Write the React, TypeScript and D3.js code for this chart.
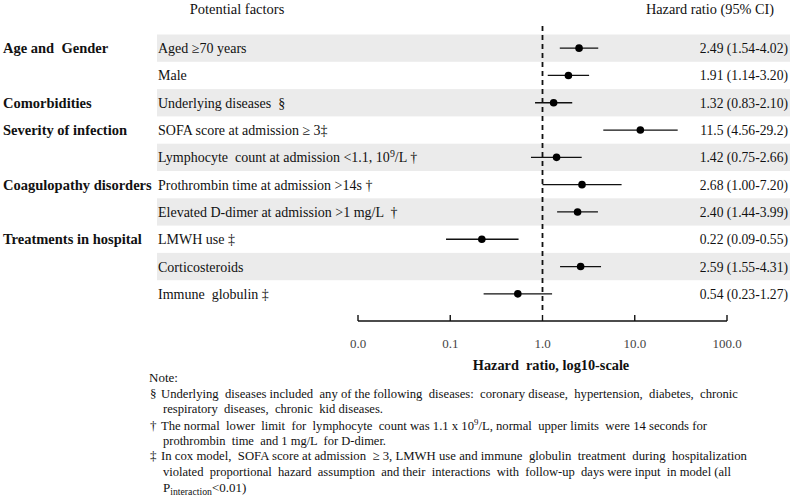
import React from "react";
import * as d3 from "d3";

const width = 790;
const height = 496;
const font = "'Liberation Serif', 'Times New Roman', serif";

// rows, top to bottom
const factors = [
  "Aged ≥70 years",
  "Male",
  "Underlying diseases  §",
  "SOFA score at admission ≥ 3‡",
  "Lymphocyte  count at admission <1.1, 10^{9}/L †",
  "Prothrombin time at admission >14s †",
  "Elevated D-dimer at admission >1 mg/L  †",
  "LMWH use ‡",
  "Corticosteroids",
  "Immune  globulin ‡",
];
const hr = [2.49, 1.91, 1.32, 11.5, 1.42, 2.68, 2.4, 0.22, 2.59, 0.54];
const ciLow = [1.54, 1.14, 0.83, 4.56, 0.75, 1.0, 1.44, 0.09, 1.55, 0.23];
const ciHigh = [4.02, 3.2, 2.1, 29.2, 2.66, 7.2, 3.99, 0.55, 4.31, 1.27];
const hrLabels = [
  "2.49 (1.54-4.02)",
  "1.91 (1.14-3.20)",
  "1.32 (0.83-2.10)",
  "11.5 (4.56-29.2)",
  "1.42 (0.75-2.66)",
  "2.68 (1.00-7.20)",
  "2.40 (1.44-3.99)",
  "0.22 (0.09-0.55)",
  "2.59 (1.55-4.31)",
  "0.54 (0.23-1.27)",
];

const groupLabels = [
  "Age and  Gender",
  "Comorbidities",
  "Severity of infection",
  "Coagulopathy disorders",
  "Treatments in hospital",
];
const groupRows = [0, 2, 3, 5, 7];

const tickValues = [0.01, 0.1, 1, 10, 100];
const tickLabels = ["0.0", "0.1", "1.0", "10.0", "100.0"];

const noteSymbols = ["§", "", "†", "", "‡", "", ""];
const noteLines = [
  "Underlying  diseases included  any of the following  diseases:  coronary disease,  hypertension,  diabetes,  chronic",
  "respiratory  diseases,  chronic  kid diseases.",
  "The normal  lower  limit  for  lymphocyte  count was 1.1 x 10^{9}/L, normal  upper limits  were 14 seconds for",
  "prothrombin  time  and 1 mg/L  for D-dimer.",
  "In cox model,  SOFA score at admission  ≥ 3, LMWH use and immune  globulin  treatment  during  hospitalization",
  "violated  proportional  hazard  assumption  and their  interactions  with  follow-up  days were input  in model (all",
  "P_{interaction}<0.01)",
];
// layout of the note block
const noteY = [393, 408, 425, 440, 455, 471, 487];
const noteRight = [738, 383, 707, 386, 747, 731, 0];

// splits "a^{b}c_{d}" into plain / super / sub pieces
const rich = (s: string, size: number) => {
  const parts = s.split(/(\^\{[^}]*\}|_\{[^}]*\})/).filter((p) => p !== "");
  return parts.map((p, i) => {
    if (p.startsWith("^{"))
      return (
        <tspan key={i} dy={-size * 0.38} fontSize={size * 0.7}>
          {p.slice(2, -1)}
        </tspan>
      );
    if (p.startsWith("_{"))
      return (
        <tspan key={i} dy={size * 0.25} fontSize={size * 0.75}>
          {p.slice(2, -1)}
        </tspan>
      );
    // undo the shift of the previous piece
    const prev = parts[i - 1];
    const dy = prev && prev.startsWith("^{") ? size * 0.38 : prev && prev.startsWith("_{") ? -size * 0.25 : 0;
    return (
      <tspan key={i} dy={dy}>
        {p}
      </tspan>
    );
  });
};

const App = () => {
  const x = d3.scaleLog().domain([0.01, 100]).range([358, 727]);
  const rowIdx = d3.range(factors.length);
  const y = d3.scaleBand<number>().domain(rowIdx).range([34.5, 34.5 + 27.3 * factors.length]).padding(0);
  const cy = (i: number) => (y(i) as number) + y.bandwidth() / 2;
  const axisY = 321;

  return (
    <svg
      width={width}
      height={height}
      style={{ position: "absolute", left: 0, top: 0, background: "#fff" }}
      fontFamily={font}
    >
      {/* zebra bands */}
      {rowIdx
        .filter((i) => i % 2 === 0)
        .map((i) => (
          <rect key={i} x={157} y={y(i)} width={width - 157} height={y.bandwidth()} fill="#ebebeb" />
        ))}

      {/* headers */}
      <text x={237} y={14} fontSize={14.5} textAnchor="middle" fill="#111">
        Potential factors
      </text>
      <text x={710} y={14} fontSize={14.3} textAnchor="middle" fill="#111">
        Hazard ratio (95% CI)
      </text>

      {groupLabels.map((g, k) => (
        <text key={g} x={3} y={cy(groupRows[k]) + 5} fontSize={14.5} fontWeight="bold" fill="#111" style={{ whiteSpace: "pre" }}>
          {g}
        </text>
      ))}

      {factors.map((f, i) => (
        <text key={i} x={158} y={cy(i) + 5} fontSize={14} fill="#111" style={{ whiteSpace: "pre" }}>
          {rich(f, 14)}
        </text>
      ))}

      {hrLabels.map((t, i) => (
        <text key={i} x={788} y={cy(i) + 5} fontSize={13.6} textAnchor="end" fill="#111">
          {t}
        </text>
      ))}

      {/* reference line at HR = 1 */}
      <line x1={x(1)} x2={x(1)} y1={26} y2={314} stroke="#111" strokeWidth={1.8} strokeDasharray="5,4" />

      {/* CIs and point estimates */}
      {rowIdx.map((i) => (
        <g key={i}>
          <line x1={x(ciLow[i])} x2={x(ciHigh[i])} y1={cy(i)} y2={cy(i)} stroke="#111" strokeWidth={1.3} />
          <circle cx={x(hr[i])} cy={cy(i)} r={3.8} fill="#000" />
        </g>
      ))}

      {/* axis */}
      <line x1={x(0.01)} x2={x(100)} y1={axisY} y2={axisY} stroke="#111" strokeWidth={1.6} />
      {tickValues.map((v, k) => (
        <g key={v}>
          <line x1={x(v)} x2={x(v)} y1={axisY - 6} y2={axisY} stroke="#111" strokeWidth={1.4} />
          <text x={x(v)} y={347.5} fontSize={13} textAnchor="middle" fill="#444">
            {tickLabels[k]}
          </text>
        </g>
      ))}
      <text x={551} y={370} fontSize={14.3} fontWeight="bold" textAnchor="middle" fill="#111" style={{ whiteSpace: "pre" }}>
        Hazard  ratio, log10-scale
      </text>

      {/* notes */}
      <text x={149} y={381.5} fontSize={13} fill="#111">
        Note:
      </text>
      {noteLines.map((line, k) => {
        const x0 = noteSymbols[k] ? 161 : 163;
        const len = noteRight[k] ? noteRight[k] - x0 : undefined;
        return (
          <g key={k}>
            {noteSymbols[k] && (
              <text x={150} y={noteY[k] + 4.5} fontSize={13} fill="#111">
                {noteSymbols[k]}
              </text>
            )}
            <text
              x={x0}
              y={noteY[k] + 4.5}
              fontSize={13}
              fill="#111"
              style={{ whiteSpace: "pre" }}
              textLength={len}
              lengthAdjust={len ? "spacingAndGlyphs" : undefined}
            >
              {rich(line, 13)}
            </text>
          </g>
        );
      })}
    </svg>
  );
};

export default App;
